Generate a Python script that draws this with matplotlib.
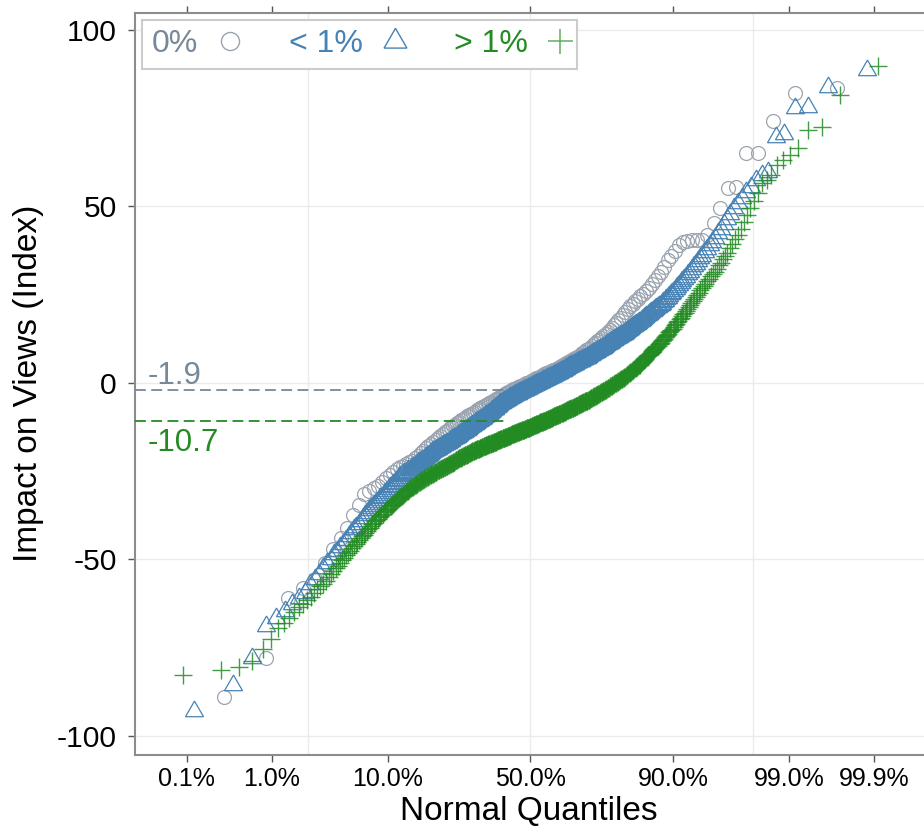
import numpy as np
import matplotlib
matplotlib.use("Agg")
import matplotlib.pyplot as plt
from matplotlib.lines import Line2D
from statistics import NormalDist

plt.rcParams['font.family'] = ['Liberation Sans', 'DejaVu Sans']

# ---- data: sorted values of each group ----
gray_vals = [
    -89, -77.9, -61, -58, -55.5, -51, -47, -44, -41, -37.5,
    -34.5, -31.5, -30.5, -29.8, -29.2, -28, -27, -26, -25.2, -24.5,
    -23.9, -23.4, -22.9, -22.5, -22, -21.3, -20.6, -19.9, -19.2, -18.5,
    -17.9, -17.3, -16.7, -16.1, -15.5, -15, -14.5, -14, -13.5, -13,
    -12.6, -12.2, -11.8, -11.4, -11, -10.6, -10.2, -9.8, -9.4, -9,
    -8.7, -8.4, -8.1, -7.8, -7.5, -7.2, -6.9, -6.6, -6.3, -6,
    -5.7, -5.4, -5.1, -4.8, -4.5, -4.2, -3.9, -3.6, -3.3, -3,
    -2.8, -2.5, -2.3, -2, -1.8, -1.6, -1.4, -1.2, -1, -0.8,
    -0.6, -0.4, -0.1, 0.1, 0.3, 0.5, 0.8, 1, 1.3, 1.5,
    1.7, 2, 2.2, 2.5, 2.7, 2.9, 3.1, 3.4, 3.6, 3.8,
    4, 4.3, 4.5, 4.8, 5, 5.3, 5.6, 5.9, 6.2, 6.5,
    6.8, 7.1, 7.4, 7.7, 8, 8.4, 8.8, 9.2, 9.6, 10,
    10.4, 10.9, 11.3, 11.8, 12.2, 12.8, 13.3, 13.9, 14.4, 15,
    15.7, 16.4, 17.1, 17.8, 18.5, 19.3, 20.1, 20.9, 21.7, 22.5,
    23.2, 23.9, 24.6, 25.3, 26, 27, 28.1, 29.2, 30.3, 31.5,
    32.9, 34.8, 36, 37.5, 39, 40, 40.3, 40.5, 40.5, 40.6,
    42, 45.3, 49.6, 55.2, 55.5, 65.2, 65.2, 74.2, 82.2, 83.6,
]

blue_vals = [
    -92.9, -85.6, -77.9, -68.8, -66.5, -64.5, -62.5, -61, -59.5,
    -57, -55.5, -54, -52.5, -51, -50, -48.5, -47.5, -46.5, -45.5,
    -44.5, -43.5, -42.5, -41.5, -40.7, -39.9, -39.1, -38.3, -37.5, -36.8,
    -36.1, -35.5, -34.9, -34.3, -33.7, -33.2, -32.7, -32.2, -31.7, -31.2,
    -30.5,
    -30.1, -29.6, -29.2, -28.7, -28.3, -27.8, -27.4, -26.9,
    -26.4, -26.1, -25.9, -25.6, -25.4, -25.1, -24.8, -24.6,
    -24.3, -24.1, -23.8, -23.5, -23.3, -23, -22.8, -22.5,
    -22.3, -22, -21.8, -21.5, -21.3, -21.1, -20.8, -20.6, -20.3, -20.1,
    -19.9, -19.6,
    -19.4, -19.3, -19.1, -18.9, -18.7, -18.6, -18.4, -18.2, -18.1, -17.9,
    -17.7, -17.6, -17.4, -17.2, -17, -16.9, -16.7, -16.5, -16.4, -16.2, -16,
    -15.8, -15.7, -15.5, -15.3, -15.2, -15, -14.8, -14.7, -14.5, -14.3,
    -14.2, -14, -13.8, -13.7, -13.5, -13.3, -13.2, -13, -12.8, -12.7,
    -12.5, -12.3, -12.2, -12,
    -11.8, -11.7, -11.5, -11.4, -11.2, -11.1, -10.9, -10.8, -10.6, -10.4,
    -10.3, -10.1, -10, -9.8, -9.7, -9.5, -9.4, -9.2, -9.1,
    -8.9, -8.7, -8.5, -8.4, -8.2, -8, -7.8, -7.7, -7.5, -7.3,
    -7.1, -6.9, -6.8, -6.6, -6.4, -6.2, -6, -5.8,
    -5.7, -5.6, -5.5, -5.3, -5.2, -5.1, -5, -4.9, -4.7, -4.6,
    -4.5, -4.4, -4.3, -4.1, -4, -3.9, -3.8, -3.7, -3.5, -3.4, -3.3, -3.2,
    -3.1, -3, -2.9, -2.8, -2.7, -2.6, -2.5, -2.4, -2.3, -2.2,
    -2.1, -2, -1.9, -1.8, -1.7, -1.6, -1.5, -1.4, -1.3, -1.2,
    -1.1, -1, -0.9, -0.8, -0.7, -0.6, -0.5, -0.4, -0.3, -0.2,
    -0.1, 0, 0.1, 0.2, 0.3, 0.4, 0.5, 0.6, 0.7, 0.8,
    0.9, 1, 1.1, 1.2, 1.3, 1.4, 1.5, 1.6, 1.7, 1.8,
    1.9, 2, 2.1, 2.2, 2.3, 2.4, 2.5, 2.6, 2.7, 2.8,
    2.9, 3, 3.2, 3.3, 3.4, 3.5, 3.7, 3.8, 3.9, 4,
    4.2, 4.3, 4.4, 4.5, 4.7, 4.8, 4.9, 5, 5.1, 5.2,
    5.3, 5.4, 5.5, 5.7, 5.8, 5.9, 6, 6.1, 6.2, 6.3,
    6.5, 6.6, 6.7, 6.8, 6.9, 7, 7.1, 7.2, 7.3, 7.5,
    7.6, 7.8, 7.9, 8.1, 8.2, 8.4, 8.5, 8.7, 8.8, 9,
    9.1, 9.3, 9.4, 9.6, 9.7, 9.9, 10, 10.2, 10.3, 10.5,
    10.7, 10.9, 11, 11.2, 11.4, 11.6, 11.7, 11.9, 12.1, 12.3,
    12.4, 12.6, 12.8, 13, 13.1, 13.3, 13.5, 13.7, 13.8, 14,
    14.2, 14.4, 14.7, 14.9, 15.1, 15.3, 15.5, 15.8,
    16, 16.2, 16.4, 16.6, 16.8, 17.1, 17.3, 17.5,
    17.8, 18.1, 18.3, 18.6, 18.9, 19.2, 19.5, 19.7,
    20, 20.3, 20.6, 20.9, 21.1, 21.4, 21.7, 22,
    22.4, 22.9, 23.3, 23.8, 24.2, 24.6, 25.1, 25.5,
    26.1, 26.6, 27.2, 27.8, 28.3, 28.9, 29.4, 30,
    30.8, 31.5, 32.3, 33, 33.8, 34.5, 35.3, 36,
    37, 38, 39, 40, 41.2, 42.5, 43.7, 45, 46.5, 48, 49.5, 51,
    52.5, 54, 55.5, 57.5, 58.9, 59.8, 69.7, 70.5, 77.9, 78.2, 83.9, 88.7,
]

green_vals = [
    -82.7, -81.3, -80.6, -78.8, -75.5, -72.5, -69.5, -68, -66.5, -65,
    -63.5, -62.5, -61.5, -60.5, -59.5, -58.5, -57.5, -57, -56, -55,
    -54.2, -53.3, -52.5, -51.8, -51, -50.3, -49.6, -48.8,
    -48.2, -47.5, -46.8, -46.2, -45.6, -45,
    -44.5, -44, -43.5, -43, -42.4,
    -42, -41.5, -41, -40.6, -40.1, -39.6,
    -39.2, -38.9, -38.5, -38.1, -37.8,
    -37.4, -37, -36.6, -36.3, -35.9, -35.6,
    -35.3, -35, -34.8, -34.5, -34.2, -33.9, -33.6, -33.4, -33.1, -32.9, -32.6,
    -32.4, -32.1, -31.9, -31.7, -31.4, -31.2, -30.9, -30.7, -30.5, -30.3, -30.1,
    -29.9, -29.7, -29.6, -29.4, -29.2, -29, -28.8, -28.7, -28.5, -28.4, -28.2, -28.1,
    -27.9, -27.8, -27.6, -27.5, -27.3, -27.2, -27, -26.9, -26.7, -26.6, -26.4,
    -26.3, -26.2, -26.1, -25.9, -25.8, -25.7, -25.6, -25.4, -25.3, -25.2, -25.1,
    -24.9, -24.8, -24.7, -24.6, -24.5, -24.4, -24.3, -24.2, -24.1, -24,
    -23.9, -23.8, -23.7, -23.6, -23.5, -23.4, -23.3, -23.2, -23.1, -23,
    -22.9, -22.8, -22.7, -22.6, -22.5, -22.4, -22.3, -22.2,
    -21.9, -21.8, -21.7, -21.6, -21.5, -21.4, -21.3, -21.2, -21.2, -21.1,
    -21, -20.9, -20.8, -20.7, -20.6, -20.5, -20.4, -20.3, -20.3, -20.2,
    -20.1, -20, -19.9, -19.8, -19.8, -19.7, -19.6, -19.5,
    -19.4, -19.3, -19.3, -19.2, -19.1, -19, -19, -18.9, -18.8, -18.8,
    -18.7, -18.6, -18.6, -18.5, -18.4, -18.4, -18.3, -18.2, -18.2, -18.1,
    -18, -18, -17.9, -17.8, -17.8, -17.7, -17.6, -17.6,
    -17.5, -17.4, -17.4, -17.3, -17.2, -17.2, -17.1, -17.1, -17, -16.9,
    -16.9, -16.8, -16.8, -16.7, -16.6, -16.6, -16.5, -16.4, -16.4, -16.3,
    -16.3, -16.2, -16.1, -16.1, -16, -16, -15.9, -15.8,
    -15.7, -15.7, -15.6, -15.5, -15.5, -15.4, -15.4, -15.3, -15.2, -15.2,
    -15.1, -15.1, -15, -14.9, -14.9, -14.8, -14.8, -14.7, -14.6, -14.6,
    -14.5, -14.5, -14.4, -14.3, -14.3, -14.2, -14.2, -14.1,
    -14, -13.9, -13.9, -13.8, -13.8, -13.7, -13.7, -13.6, -13.5, -13.5,
    -13.4, -13.4, -13.3, -13.3, -13.2, -13.2, -13.1, -13.1, -13, -13,
    -12.9, -12.9, -12.8, -12.8, -12.7, -12.7, -12.6, -12.6,
    -12.4, -12.4, -12.3, -12.2, -12.2, -12.1, -12, -12, -11.9, -11.8,
    -11.8, -11.7, -11.7, -11.6, -11.5, -11.5, -11.4, -11.4, -11.3, -11.2,
    -11.2, -11.1, -11.1, -11, -11, -10.9, -10.9, -10.8,
    -10.7, -10.7, -10.6, -10.5, -10.5, -10.4, -10.3, -10.3, -10.2, -10.1,
    -10.1, -10, -9.9, -9.9, -9.8, -9.7, -9.7, -9.6, -9.5, -9.5,
    -9.4, -9.3, -9.3, -9.2, -9.2, -9.1, -9.1, -9,
    -8.9, -8.9, -8.8, -8.7, -8.6, -8.6, -8.5, -8.4, -8.3, -8.3,
    -8.2, -8.1, -8, -8, -7.9, -7.8, -7.8, -7.7, -7.6, -7.5,
    -7.5, -7.4, -7.3, -7.3, -7.2, -7.1, -7.1, -7,
    -6.9, -6.8, -6.8, -6.7, -6.6, -6.5, -6.4, -6.4, -6.3, -6.2,
    -6.1, -6, -6, -5.9, -5.8, -5.7, -5.6, -5.6, -5.5, -5.4,
    -5.3, -5.2, -5.2, -5.1, -5, -5, -4.9, -4.8,
    -4.7, -4.6, -4.5, -4.4, -4.3, -4.2, -4.1, -4, -3.9, -3.8,
    -3.7, -3.6, -3.5, -3.4, -3.3, -3.2, -3.1, -3, -2.9, -2.8,
    -2.7, -2.6, -2.5, -2.4, -2.3, -2.2, -2.1, -2,
    -1.9, -1.8, -1.6, -1.5, -1.4, -1.3, -1.1, -1, -0.9, -0.8,
    -0.6, -0.5, -0.4, -0.3, -0.1, 0, 0.1, 0.2, 0.4, 0.5,
    0.6, 0.7, 0.9, 1, 1.1, 1.2, 1.3, 1.4,
    1.6, 1.8, 2, 2.2, 2.3, 2.5, 2.7, 2.9, 3, 3.2, 3.4,
    3.6, 3.7, 3.9, 4.1, 4.3, 4.5, 4.6, 4.8, 5, 5.2, 5.4,
    5.7, 6, 6.2, 6.5, 6.7, 7, 7.3, 7.5, 7.8, 8, 8.3, 8.6,
    8.8, 9.1, 9.3, 9.6, 9.9, 10.1, 10.4, 10.6, 10.9, 11.1, 11.4,
    11.8, 12.2, 12.5, 12.9, 13.2, 13.6, 14, 14.3, 14.7, 15, 15.4,
    15.8, 16.3, 16.7, 17.2, 17.6, 18.1, 18.5, 19, 19.4, 19.9, 20.3,
    20.9, 21.5, 22.1, 22.6, 23.2, 23.8, 24.4, 25, 25.6, 26.2, 26.8,
    27.4, 28.1, 28.8, 29.5, 30.2, 30.8,
    31.5, 32.4, 33.3, 34.1, 35, 35.9,
    36.9, 38.2, 39.5, 40.8, 42, 43.5, 45.5, 47.5,
    49.6, 51.5, 53.8, 56.6, 57.5, 59, 61.7, 63.2, 64.6, 66.6,
    71.7, 72.5, 81.6, 89.8,
]

series_labels = ["0%", "< 1%", "> 1%"]
ref_values = [-1.9, -10.7]
ref_labels = ["-1.9", "-10.7"]
tick_probs = [0.001, 0.01, 0.10, 0.50, 0.90, 0.99, 0.999]
tick_labels = ["0.1%", "1.0%", "10.0%", "50.0%", "90.0%", "99.0%", "99.9%"]
y_ticks = [-100, -50, 0, 50, 100]
grid_z = [-2, 0, 2]

# ---- styles ----
c_gray_txt = "#778899"
c_gray_pt = "#9aa4b0"
c_blue = "#4682B4"
c_green = "#228B22"
tri = (3, 0, 0)

nd = NormalDist()


def qq(vals):
    v = np.sort(np.asarray(vals, dtype=float))
    n = len(v)
    p = (np.arange(1, n + 1) - 0.5) / n
    z = np.array([nd.inv_cdf(pi) for pi in p])
    return z, v


fig = plt.figure(figsize=(9.24, 8.34), dpi=100)
ax = fig.add_axes([135 / 924, 79 / 834, 790.6 / 924, 742 / 834])
ax.set_xlim(-3.553, 3.55)
ax.set_ylim(-105.4, 104.8)

for gy in y_ticks:
    ax.axhline(gy, color="#ebebeb", lw=1, zorder=0)
for gx in grid_z:
    ax.axvline(gx, color="#ebebeb", lw=1, zorder=0)

zg, vg = qq(gray_vals)
zb, vb = qq(blue_vals)
zr, vr = qq(green_vals)

ax.plot(zg, vg, ls="none", marker="o", ms=10, mfc="none", mec=c_gray_pt,
        mew=0.9, zorder=3)
ax.plot(zb, vb, ls="none", marker=tri, ms=15, mfc="none", mec=c_blue,
        mew=0.9, zorder=4)
ax.plot(zr, vr, ls="none", marker="+", ms=13, mec=c_green, mew=1.0,
        alpha=0.85, zorder=5)

# reference lines
ref_end_z = -0.21
x0 = ax.get_xlim()[0]
ax.plot([x0, ref_end_z], [ref_values[0]] * 2, ls=(0, (6, 3)), lw=1.3,
        color=c_gray_txt, zorder=6)
ax.plot([x0, ref_end_z], [ref_values[1]] * 2, ls=(0, (6, 3)), lw=1.3,
        color=c_green, zorder=6)
ax.annotate(ref_labels[0], xy=(x0, ref_values[0]), xytext=(13, 6),
            textcoords="offset pixels", ha="left", va="baseline",
            fontsize=22.5, color=c_gray_txt)
ax.annotate(ref_labels[1], xy=(x0, ref_values[1]), xytext=(13, -30),
            textcoords="offset pixels", ha="left", va="baseline",
            fontsize=22.5, color=c_green)

# axes styling
ax.set_xticks([nd.inv_cdf(p) for p in tick_probs])
ax.set_xticklabels(tick_labels)
ax.set_yticks(y_ticks)
ax.set_yticklabels([str(t) for t in y_ticks])
ax.tick_params(axis="x", direction="out", length=5, width=1, color="#555555",
               top=True, labelsize=18, pad=4)
ax.tick_params(axis="y", direction="out", length=5, width=1, color="#555555",
               labelsize=21.6, pad=8)
for s in ax.spines.values():
    s.set_color("#8c8c8c")
    s.set_linewidth(1.5)

fig.text(29 / 924, 1 - 383 / 834, "Impact on Views (Index)", rotation=90,
         ha="center", va="center", fontsize=24)
fig.text(529 / 924, 1 - 812 / 834, "Normal Quantiles", ha="center",
         va="center", fontsize=24)

# legend
handles = [
    Line2D([], [], ls="none", marker="o", ms=13, mfc="none", mec=c_gray_pt, mew=1),
    Line2D([], [], ls="none", marker=tri, ms=19, mfc="none", mec=c_blue, mew=1),
    Line2D([], [], ls="none", marker="+", ms=18, mec=c_green, mew=1.1, alpha=0.7),
]
leg = ax.legend(handles, series_labels, loc="upper left",
                bbox_to_anchor=(0.009, 0.991), borderaxespad=0, ncol=3,
                markerfirst=False, fontsize=23, handlelength=0.5,
                handletextpad=0.75, columnspacing=1.6, borderpad=0.3,
                fancybox=False, framealpha=1)
leg.get_frame().set_edgecolor("#cccccc")
leg.get_frame().set_linewidth(1.5)
for t, c in zip(leg.get_texts(), [c_gray_txt, c_blue, c_green]):
    t.set_color(c)

fig.savefig("out.png", dpi=100)
